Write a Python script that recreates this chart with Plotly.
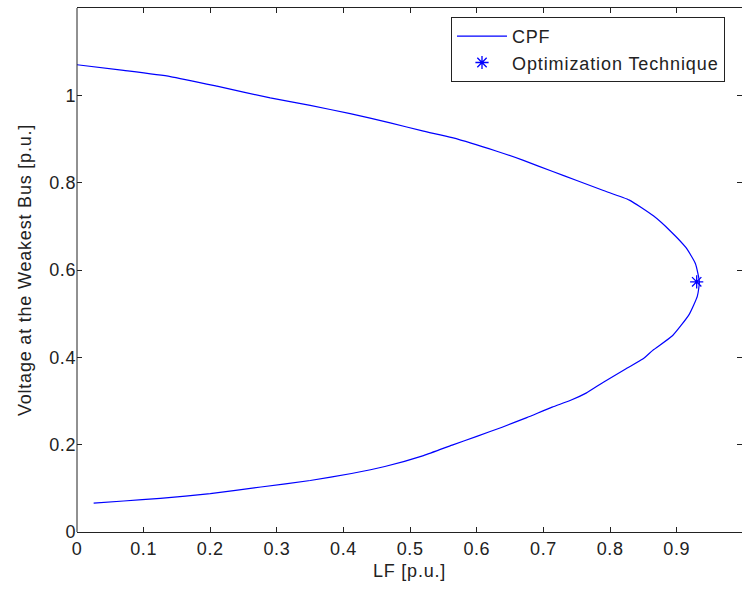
import plotly.graph_objects as go

# CPF nose curve (LF [p.u.], Voltage [p.u.])
cpf_lf = [0.0, 0.07, 0.14, 0.21, 0.29, 0.35, 0.41, 0.47, 0.52, 0.563, 0.63, 0.67, 0.713,
          0.75, 0.79, 0.829, 0.865, 0.89, 0.914, 0.928, 0.934, 0.931, 0.919, 0.894,
          0.864, 0.849, 0.824, 0.79, 0.764, 0.74, 0.713, 0.675, 0.638, 0.6, 0.563, 0.52,
          0.462, 0.412, 0.35, 0.276, 0.2, 0.125, 0.07, 0.025]
cpf_v = [1.070, 1.057, 1.043, 1.021, 0.994, 0.977, 0.958, 0.937, 0.918, 0.903, 0.872,
         0.851, 0.826, 0.805, 0.782, 0.760, 0.724, 0.690, 0.651, 0.615, 0.573, 0.540,
         0.499, 0.450, 0.416, 0.396, 0.374, 0.343, 0.318, 0.301, 0.286, 0.262, 0.240,
         0.219, 0.199, 0.175, 0.150, 0.134, 0.118, 0.103, 0.088, 0.077, 0.071, 0.066]

opt_lf = [0.93]
opt_v = [0.573]

x_ticks = [0, 0.1, 0.2, 0.3, 0.4, 0.5, 0.6, 0.7, 0.8, 0.9]
x_labels = ["0", "0.1", "0.2", "0.3", "0.4", "0.5", "0.6", "0.7", "0.8", "0.9"]
x_last_tick = 1
x_last_label = "1"
y_ticks = [0, 0.2, 0.4, 0.6, 0.8, 1]
y_labels = ["0", "0.2", "0.4", "0.6", "0.8", "1"]

FONT = "Liberation Sans, Arial, sans-serif"
FS = 18
COL = "#222"


def sp(t, ls=0.8):
    return '<span style="letter-spacing:%spx">%s</span>' % (ls, t)


fig = go.Figure()
fig.add_trace(go.Scatter(x=cpf_lf, y=cpf_v, mode="lines", name=sp("CPF"),
                         line=dict(color="#0000ff", width=1.2, shape="spline",
                                   smoothing=0.5)))
fig.add_trace(go.Scatter(x=opt_lf, y=opt_v, mode="markers",
                         name=sp("Optimization Technique", 0.9),
                         marker=dict(symbol="asterisk-open", size=11,
                                     line=dict(color="#0000ff", width=1.3),
                                     color="#0000ff")))

tick_common = dict(showgrid=False, zeroline=False, linecolor=COL,
                   linewidth=1, ticks="inside", ticklen=5, tickcolor=COL,
                   mirror="ticks", tickfont=dict(family=FONT, size=FS, color=COL))

fig.update_layout(
    width=742, height=590,
    margin=dict(l=77, r=0, t=8, b=58),
    paper_bgcolor="white", plot_bgcolor="white",
    font=dict(family=FONT, size=FS, color=COL),
    xaxis=dict(range=[0, 0.998], tickvals=x_ticks, ticktext=[sp(t, 0.6) for t in x_labels],
               showline=True,
               title=dict(text=sp("LF [p.u.]"), font=dict(family=FONT, size=FS, color=COL),
                          standoff=6),
               **tick_common),
    yaxis=dict(range=[0, 1.2], tickvals=y_ticks, ticktext=[sp(t, 0.6) for t in y_labels],
               showline=False,
               title=dict(text=sp("Voltage at the Weakest Bus [p.u.]"),
                          font=dict(family=FONT, size=FS, color=COL), standoff=12),
               **tick_common),
    showlegend=True,
    legend=dict(x=0.5624, y=0.983, xanchor="left", yanchor="top",
                bgcolor="white", bordercolor=COL, borderwidth=1,
                font=dict(family=FONT, size=FS, color=COL),
                tracegroupgap=0, itemwidth=50),
)

# left axis line (the right border falls just outside the picture)
fig.add_shape(type="line", xref="paper", yref="paper", x0=0, x1=0, y0=0, y1=1,
              line=dict(color=COL, width=1), layer="above")

# last x tick label sits just past the right edge of the picture (cut off)
fig.add_annotation(x=x_last_tick, y=0, xref="x", yref="y", text=sp(x_last_label, 0.6),
                   showarrow=False, yanchor="top", yshift=-7,
                   font=dict(family=FONT, size=FS, color=COL))

fig.write_html("out.html")
